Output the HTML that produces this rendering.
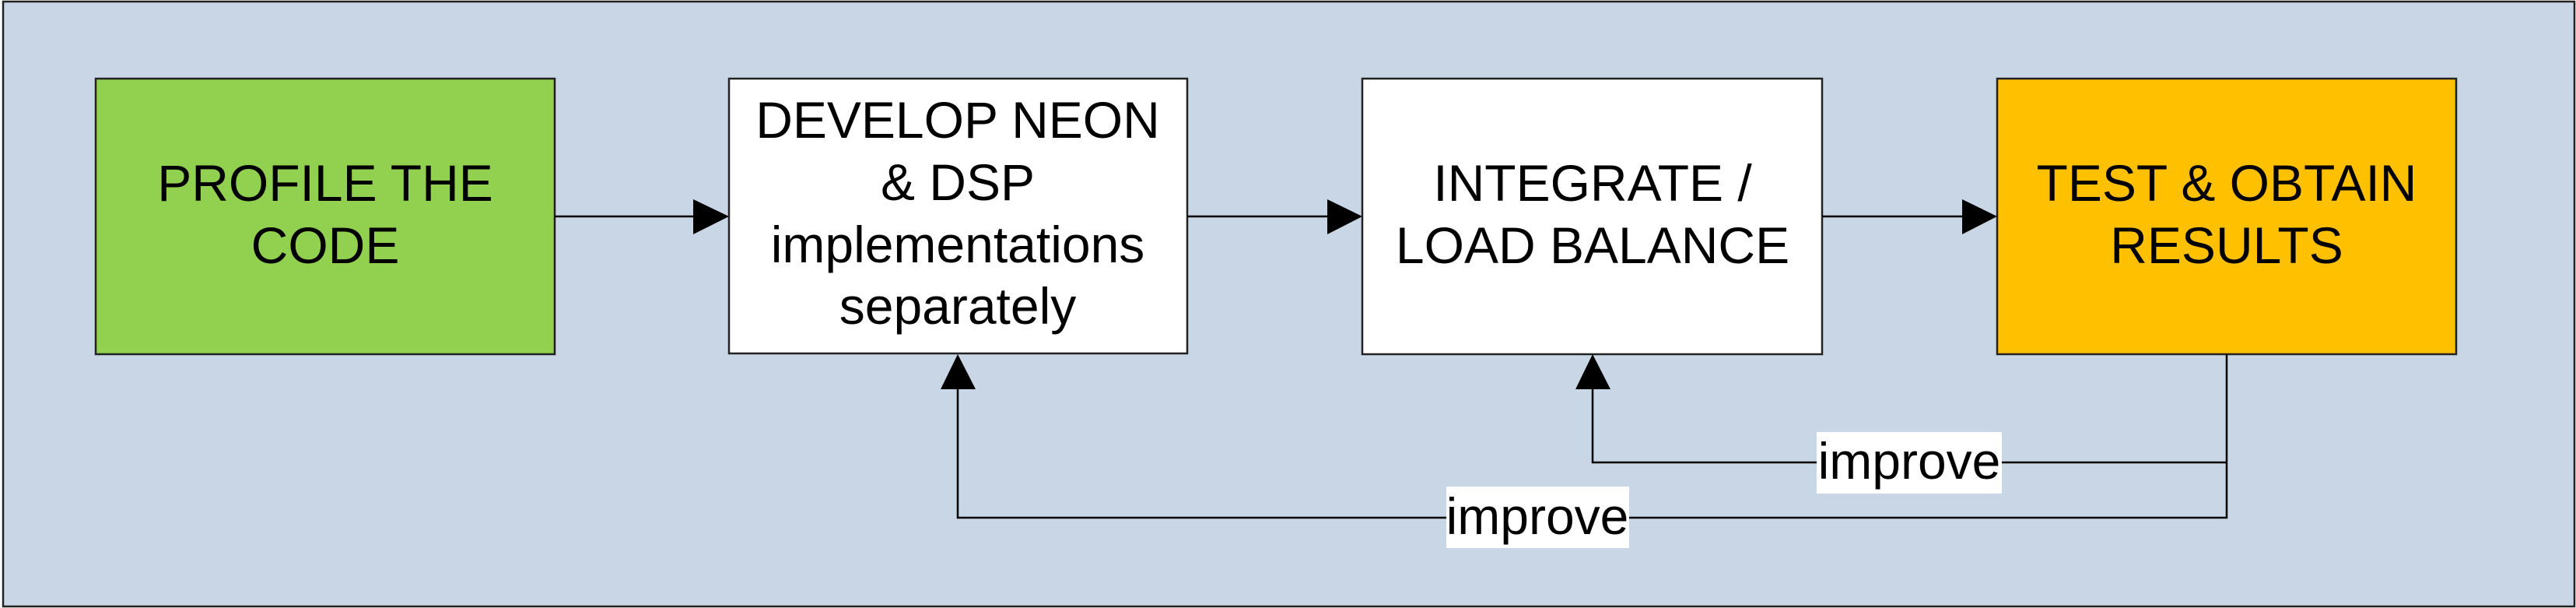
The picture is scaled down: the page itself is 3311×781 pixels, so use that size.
<!DOCTYPE html>
<html><head><meta charset="utf-8"><style>
html,body{margin:0;padding:0;background:#fff;}
svg{display:block;}
text{font-family:"Liberation Sans",Arial,sans-serif;font-size:66px;fill:#000;}
</style></head><body>
<svg width="3311" height="781" viewBox="0 0 3311 781" xmlns="http://www.w3.org/2000/svg">
<rect x="4" y="2" width="3305" height="777" fill="#c9d6e5" stroke="#222" stroke-width="2.5"/>
<!-- boxes -->
<rect x="123" y="101" width="590" height="354" fill="#92d050" stroke="#222" stroke-width="2.5"/>
<rect x="937" y="101" width="589" height="353" fill="#fff" stroke="#222" stroke-width="2.5"/>
<rect x="1751" y="101" width="591" height="354" fill="#fff" stroke="#222" stroke-width="2.5"/>
<rect x="2567" y="101" width="590" height="354" fill="#ffc000" stroke="#222" stroke-width="2.5"/>
<!-- forward connectors -->
<g stroke="#000" stroke-width="2.5" fill="none">
<line x1="713" y1="278" x2="893" y2="278"/>
<line x1="1526" y1="278" x2="1708" y2="278"/>
<line x1="2342" y1="278" x2="2524" y2="278"/>
<polyline points="2862,455 2862,665 1231,665 1231,498"/>
<polyline points="2862,594 2047,594 2047,498"/>
</g>
<g fill="#000">
<polygon points="891,256 937,278 891,301"/>
<polygon points="1706,256 1751,278 1706,301"/>
<polygon points="2522,256 2567,278 2522,301"/>
<polygon points="1209,500 1231,455 1254,500"/>
<polygon points="2025,500 2047,455 2070,500"/>
</g>
<!-- labels -->
<rect x="2335" y="555" width="238" height="79" fill="#fff"/>
<rect x="1859" y="625" width="235" height="79" fill="#fff"/>
<text x="2454" y="615" text-anchor="middle">improve</text>
<text x="1976" y="686" text-anchor="middle">improve</text>
<!-- box text -->
<text x="418" y="258" text-anchor="middle">PROFILE THE</text>
<text x="418" y="338" text-anchor="middle">CODE</text>
<text x="1231" y="177" text-anchor="middle">DEVELOP NEON</text>
<text x="1231" y="257" text-anchor="middle">&amp; DSP</text>
<text x="1231" y="337" text-anchor="middle">implementations</text>
<text x="1231" y="416" text-anchor="middle">separately</text>
<text x="2047" y="258" text-anchor="middle">INTEGRATE /</text>
<text x="2047" y="338" text-anchor="middle">LOAD BALANCE</text>
<text x="2862" y="258" text-anchor="middle">TEST &amp; OBTAIN</text>
<text x="2862" y="338" text-anchor="middle">RESULTS</text>
</svg>
</body></html>
